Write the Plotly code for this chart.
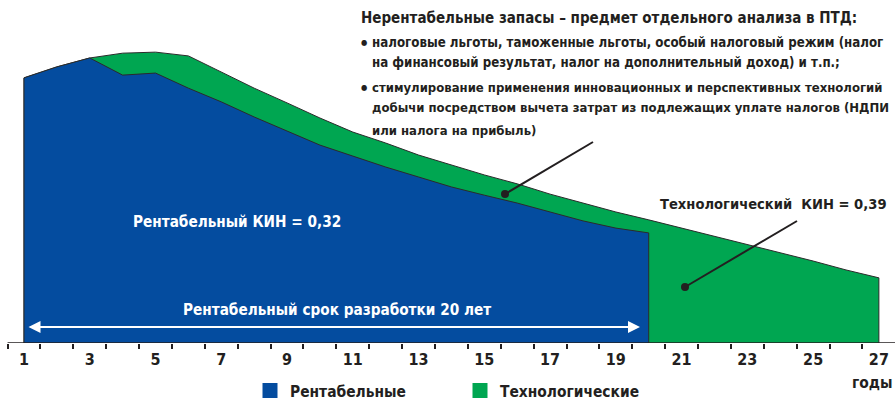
"""Рентабельные и технологические запасы: профиль добычи по годам."""

import plotly.graph_objects as go

YEARS = list(range(1, 28))

# верхняя граница рентабельной добычи (годы 1..20)
RENT_YEARS = list(range(1, 21))
RENT_VALUES = [
    77.3, 80.5, 83.1, 78.1, 78.7, 74.3, 70.3, 65.9, 61.8, 57.7,
    54.5, 51.3, 48.4, 45.5, 43.1, 40.8, 38.2, 35.6, 33.5, 32.1,
]

# верхняя граница технологической добычи (годы 1..27)
TECH_VALUES = [
    77.3, 80.5, 83.1, 84.5, 84.8, 83.7, 79.0, 74.3, 70.0, 65.6,
    61.5, 58.3, 54.8, 51.9, 49.0, 46.4, 43.4, 40.8, 38.2, 35.9,
    33.5, 31.2, 28.6, 26.2, 23.9, 21.3, 19.0,
]

TICK_YEARS = list(range(1, 28, 2))
TICK_LABELS = [str(y) for y in TICK_YEARS]

LEGEND_NAMES = ["Рентабельные", "Технологические"]

BLUE = "#044C9F"
GREEN = "#00A651"
DARK = "#231F20"
OUTLINE = "#2B2B2B"

FONT = "Liberation Sans Narrow, DejaVu Sans Condensed, Liberation Sans, Arial, sans-serif"

W, H = 895, 400
PLOT_B = 57
PLOT_H = H - PLOT_B
X_RANGE = [0.27, 27.49]


def px(x):
    return x / W


def py(y):
    return (PLOT_H - y) / PLOT_H


def closed(xs, ys):
    return [xs[0]] + xs + [xs[-1]], [0] + ys + [0]


fig = go.Figure()

tx, ty = closed(YEARS, TECH_VALUES)
fig.add_trace(go.Scatter(
    x=tx, y=ty, fill="toself", fillcolor=GREEN, mode="lines",
    line=dict(color=OUTLINE, width=1), showlegend=False, hoverinfo="skip",
))
rx, ry = closed(RENT_YEARS, RENT_VALUES)
fig.add_trace(go.Scatter(
    x=rx, y=ry, fill="toself", fillcolor=BLUE, mode="lines",
    line=dict(color=OUTLINE, width=1), showlegend=False, hoverinfo="skip",
))

# легенда квадратами
for name, color in zip(LEGEND_NAMES, [BLUE, GREEN]):
    fig.add_trace(go.Scatter(
        x=[None], y=[None], mode="markers", name=name,
        marker=dict(symbol="square", size=15, color=color, line=dict(width=0)),
    ))

note_font = dict(family=FONT, size=13.2, color=DARK, weight="bold")
label_font = dict(family=FONT, size=14.6, color=DARK, weight="bold")
tick_font = dict(family=FONT, size=16, color=DARK, weight="bold")
legend_font = dict(family=FONT, size=15.4, color=DARK, weight="bold")
white_font = dict(family=FONT, size=15.2, color="white", weight="bold")

notes = [
    (359, 18, 15.0, "Нерентабельные запасы – предмет отдельного анализа в ПТД:"),
    (359, 42, 8, "●"),
    (370, 42, 13.2, "налоговые льготы, таможенные льготы, особый налоговый режим (налог"),
    (370, 63, 13.2, "на финансовый результат, налог на дополнительный доход) и т.п.;"),
    (359, 87, 8, "●"),
    (370, 87, 13.0, "стимулирование применения инновационных и перспективных технологий"),
    (370, 108, 13.0, "добычи посредством вычета затрат из подлежащих уплате налогов (НДПИ"),
    (370, 130, 13.0, "или налога на прибыль)"),
]
for x, y, size, text in notes:
    fig.add_annotation(
        x=px(x), y=py(y), xref="paper", yref="paper", text=text,
        showarrow=False, xanchor="left", yanchor="middle",
        font=dict(note_font, size=size),
    )

fig.add_annotation(
    x=px(131), y=py(222), xref="paper", yref="paper",
    text="Рентабельный КИН = 0,32", showarrow=False,
    xanchor="left", yanchor="middle", font=white_font,
)
fig.add_annotation(
    x=px(181), y=py(310), xref="paper", yref="paper",
    text="Рентабельный срок разработки 20 лет", showarrow=False,
    xanchor="left", yanchor="middle", font=white_font,
)
fig.add_annotation(
    x=px(889), y=py(203), xref="paper", yref="paper",
    text="Технологический  КИН = 0,39", showarrow=False,
    xanchor="right", yanchor="middle", font=label_font,
)
fig.add_annotation(
    x=px(894), y=py(383), xref="paper", yref="paper",
    text="годы", showarrow=False,
    xanchor="right", yanchor="middle", font=legend_font,
)

# двусторонняя стрелка срока разработки
fig.add_annotation(
    x=px(640), y=py(327), ax=px(27), ay=py(327),
    xref="x domain", yref="y domain", axref="x domain", ayref="y domain",
    text="", showarrow=True, arrowside="end+start", arrowhead=2,
    arrowsize=1.2, arrowwidth=2, arrowcolor="white",
)

# выноски
for (x0, y0), (x1, y1) in [((505, 194), (593, 142)), ((685, 287), (797, 221))]:
    fig.add_shape(type="line", xref="paper", yref="paper",
                  x0=px(x0), y0=py(y0), x1=px(x1), y1=py(y1),
                  line=dict(color=DARK, width=2))
    fig.add_shape(type="circle", xref="paper", yref="paper",
                  x0=px(x0 - 4), y0=py(y0 + 4), x1=px(x0 + 4), y1=py(y0 - 4),
                  fillcolor=DARK, line=dict(width=0))

# ось X
fig.add_shape(type="line", xref="x", yref="y", x0=0.5, x1=X_RANGE[1], y0=0, y1=0,
              line=dict(color=DARK, width=1.5))

fig.update_layout(
    width=W, height=H,
    margin=dict(l=0, r=0, t=0, b=PLOT_B, autoexpand=False),
    paper_bgcolor="white", plot_bgcolor="white",
    xaxis=dict(
        range=X_RANGE, showgrid=False, zeroline=False, showline=False,
        automargin=False,
        tickmode="array", tickvals=TICK_YEARS, ticktext=TICK_LABELS,
        ticks="", tickfont=tick_font, ticklabelstandoff=5,
        minor=dict(tickmode="linear", tick0=0.5, dtick=1, ticks="outside",
                   ticklen=5, tickwidth=1.5, tickcolor=DARK, showgrid=False),
    ),
    yaxis=dict(range=[0, 100], visible=False),
    legend=dict(
        orientation="h", x=px(250), y=py(391), xanchor="left", yanchor="middle",
        font=legend_font, entrywidth=165, bgcolor="rgba(0,0,0,0)",
    ),
)

fig.write_html(
    "out.html",
    config={"displayModeBar": False},
    post_script="document.body.style.margin = '0';",
)
